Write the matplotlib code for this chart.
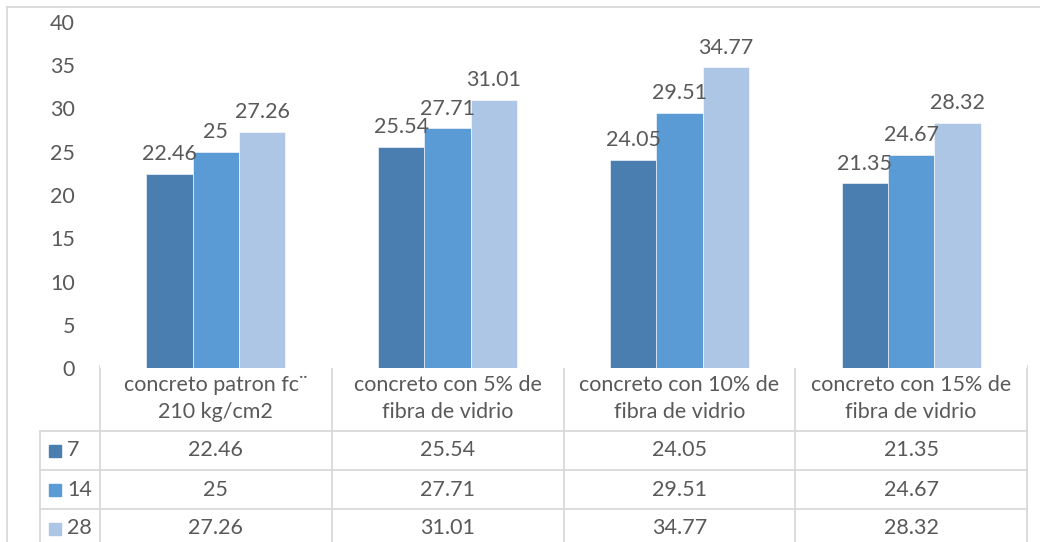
import matplotlib.pyplot as plt
import numpy as np
from matplotlib.lines import Line2D
from matplotlib.patches import Rectangle

categorias = ["concreto patron fc¨\n210 kg/cm2",
              "concreto con 5% de\nfibra de vidrio",
              "concreto con 10% de\nfibra de vidrio",
              "concreto con 15% de\nfibra de vidrio"]
series = ["7", "14", "28"]
v7 = [22.46, 25.54, 24.05, 21.35]
v14 = [25, 27.71, 29.51, 24.67]
v28 = [27.26, 31.01, 34.77, 28.32]
valores = [v7, v14, v28]
colores = ["#4a7eb0", "#5b9bd5", "#adc6e5"]

plt.rcParams['font.family'] = ['Lato', 'DejaVu Sans']
txt_color = "#595959"
grid_color = "#d9d9d9"
fs = 15.5

W, H = 1040, 542
fig = plt.figure(figsize=(W / 100, H / 100), dpi=100)

# bar axes placed in pixel terms
x0, x1 = 100, 1027
ytop, ybot = 22, 368
ax = fig.add_axes([x0 / W, 1 - ybot / H, (x1 - x0) / W, (ybot - ytop) / H])
x = np.arange(len(categorias))
ancho = 0.2
for i, (s, vals) in enumerate(zip(series, valores)):
    pos = x + (i - 1) * ancho
    ax.bar(pos, vals, ancho, color=colores[i], edgecolor="white", linewidth=0.4)
    for p, v in zip(pos, vals):
        ax.annotate(f"{v:g}", (p, v), xytext=(0, 7), textcoords="offset points",
                    ha="center", va="bottom", fontsize=fs, color=txt_color)
ax.set_xlim(-0.5, len(categorias) - 0.5)
ax.set_ylim(0, 40)
ax.set_yticks(np.arange(0, 41, 5))
ax.set_xticks([])
ax.tick_params(axis="y", length=0, pad=18, labelsize=fs, labelcolor=txt_color)
for sp in ax.spines.values():
    sp.set_visible(False)

# overlay in pixel coordinates for border and data table
ov = fig.add_axes([0, 0, 1, 1], zorder=-1)
ov.set_xlim(0, W)
ov.set_ylim(H, 0)
ov.axis("off")

def linea(xs, ys):
    ov.add_line(Line2D(xs, ys, color=grid_color, lw=1.3))

# outer frame
linea([7, 7], [7, H])
linea([7, W], [7, 7])

cw = (x1 - x0) / len(categorias)
row_y = [366, 431, 470, 509, 548]
leg_x = 40
# horizontal table lines
linea([x0, x1], [row_y[0], row_y[0]])
for yy in row_y[1:]:
    linea([leg_x, x1], [yy, yy])
# vertical table lines
linea([leg_x, leg_x], [row_y[1], H])
for j in range(len(categorias) + 1):
    xx = x0 + j * cw
    linea([xx, xx], [row_y[0], H])

for j, c in enumerate(categorias):
    ov.text(x0 + (j + 0.5) * cw, (row_y[0] + row_y[1]) / 2, c, ha="center",
            va="center", fontsize=fs, color=txt_color, linespacing=1.4)
for i, (s, vals) in enumerate(zip(series, valores)):
    yc = (row_y[i + 1] + row_y[i + 2]) / 2
    ov.add_patch(Rectangle((49, yc - 6), 12, 12, color=colores[i]))
    ov.text(67, yc, s, ha="left", va="center", fontsize=fs, color=txt_color)
    for j, v in enumerate(vals):
        ov.text(x0 + (j + 0.5) * cw, yc, f"{v:g}", ha="center", va="center",
                fontsize=fs, color=txt_color)

fig.savefig("out.png", dpi=100)
